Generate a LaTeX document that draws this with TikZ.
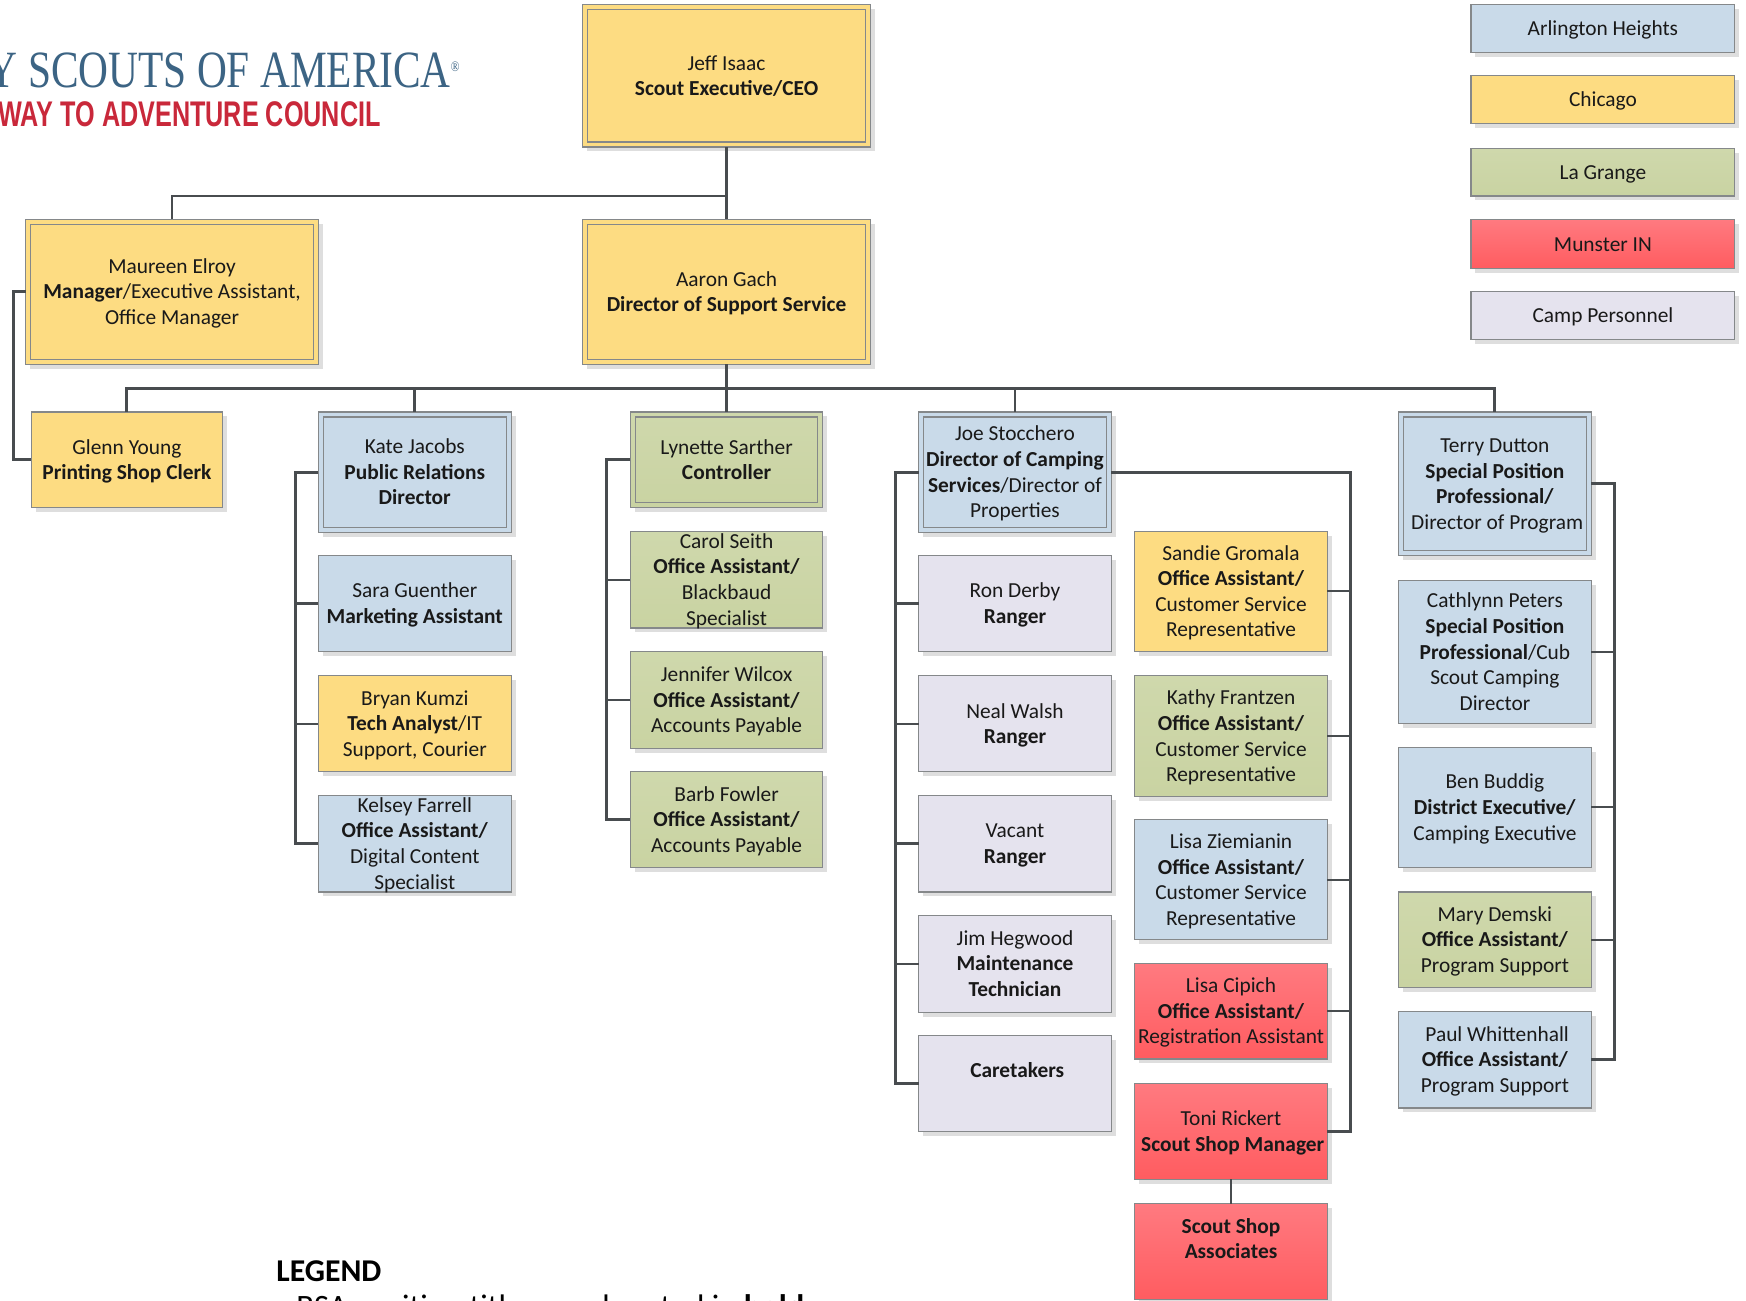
\documentclass[tikz,border=0pt]{standalone}
\usepackage{fontspec}
\setmainfont{Carlito}
\newfontfamily\logoserif[FakeStretch=0.79]{Liberation Serif}
\newfontfamily\logosans[FakeStretch=0.707]{Liberation Sans}
\usetikzlibrary{shadows,calc}
\definecolor{cblue}{HTML}{C9DAE9}
\definecolor{cyellow}{HTML}{FDDC82}
\definecolor{cgreen}{HTML}{CFD8AC}
\definecolor{cgreenb}{HTML}{C9D3A2}
\definecolor{credt}{HTML}{FF7A80}
\definecolor{credb}{HTML}{FF5C60}
\definecolor{cpurple}{HTML}{E5E3EE}
\definecolor{cedge}{HTML}{85888A}
\definecolor{cline}{HTML}{484C4F}
\definecolor{clogoblue}{HTML}{3C6484}
\definecolor{clogored}{HTML}{C9283A}
\tikzset{
  boxbase/.style={draw=cedge,line width=1pt,rectangle,inner sep=0pt,outer sep=0pt,
    font=\fontsize{19.2}{23}\selectfont,text=black!90,
    general shadow={fill=black!13,shadow xshift=4pt,shadow yshift=-4pt}},
  blue/.style={boxbase,fill=cblue},
  yellow/.style={boxbase,fill=cyellow},
  green/.style={boxbase,top color=cgreen,bottom color=cgreenb},
  red/.style={boxbase,top color=credt,bottom color=credb},
  purple/.style={boxbase,fill=cpurple},
  innerline/.style={draw=cedge,line width=1pt},
  trunk/.style={draw=cline,line width=2.6pt,line join=miter},
  stub/.style={draw=cline,line width=1.9pt},
}
% name, style, x1, y1, x2, y2, text
\newcommand{\orgbox}[7]{%
  \pgfmathsetmacro{\bw}{#5-#3}\pgfmathsetmacro{\bh}{#6-#4}%
  \pgfmathsetmacro{\cx}{(#3+#5)/2}\pgfmathsetmacro{\cy}{(#4+#6)/2}%
  \node[#2,minimum width=\bw pt,minimum height=\bh pt] (#1) at (\cx,\cy)
    {\raisebox{-7pt}[0pt][0pt]{\begin{tabular}{@{}c@{}}#7\end{tabular}}};}
\newcommand{\orgdbl}[7]{%
  \orgbox{#1}{#2}{#3}{#4}{#5}{#6}{#7}%
  \draw[innerline] ($(#1.north west)+(4.5pt,-4.5pt)$) rectangle ($(#1.south east)+(-4.5pt,4.5pt)$);}
\begin{document}
\begin{tikzpicture}[x=1pt,y=-1pt]
\useasboundingbox (0,0) rectangle (1568,1168);
\fill[white] (0,0) rectangle (1568,1168);
\begin{scope}
\clip (0,0) rectangle (1568,1168);
% logo
\node[anchor=base west,inner sep=0pt,text=clogoblue,font=\logoserif\fontsize{47}{47}\selectfont] (logoa) at (-11,79) {Y SCOUTS OF AMERICA\raisebox{15pt}{\fontsize{13}{13}\selectfont®}};
\node[anchor=base west,inner sep=0pt,text=clogored,font=\logosans\bfseries\fontsize{32}{32}\selectfont] (logob) at (-1.5,113.5) {WAY TO ADVENTURE COUNCIL};
% legend
\node[anchor=base west,inner sep=0pt,font=\bfseries\fontsize{28.5}{29}\selectfont] (legend) at (248,1151) {LEGEND};
\node[anchor=base west,inner sep=0pt,font=\fontsize{29.3}{29}\selectfont] (legendb) at (266,1183.5) {BSA position titles are denoted in \textbf{bold}};
\end{scope}
% top
\orgdbl{jeff}{yellow}{523}{4}{782}{132}{Jeff Isaac\\\textbf{Scout Executive/CEO}}
\orgdbl{maureen}{yellow}{23}{197}{286}{327}{Maureen Elroy\\\textbf{Manager}/Executive Assistant,\\Office Manager}
\orgdbl{aaron}{yellow}{523}{197}{782}{327}{Aaron Gach\\\textbf{Director of Support Service}}
\orgbox{glenn}{yellow}{28}{370}{200}{456}{Glenn Young\\\textbf{Printing Shop Clerk}}
% column 2
\orgdbl{kate}{blue}{286}{370}{459}{478}{Kate Jacobs\\\textbf{Public Relations}\\\textbf{Director}}
\orgbox{sara}{blue}{286}{499}{459}{585}{Sara Guenther\\\textbf{Marketing Assistant}}
\orgbox{bryan}{yellow}{286}{607}{459}{693}{Bryan Kumzi\\\textbf{Tech Analyst}/IT\\Support, Courier}
\orgbox{kelsey}{blue}{286}{714}{459}{801}{Kelsey Farrell\\\textbf{Office Assistant/}\\Digital Content\\Specialist}
% column 3
\orgdbl{lynette}{green}{566}{370}{739}{456}{Lynette Sarther\\\textbf{Controller}}
\orgbox{carol}{green}{566}{477}{739}{564}{Carol Seith\\\textbf{Office Assistant/}\\Blackbaud\\Specialist}
\orgbox{jennifer}{green}{566}{585}{739}{672}{Jennifer Wilcox\\\textbf{Office Assistant/}\\Accounts Payable}
\orgbox{barb}{green}{566}{693}{739}{779}{Barb Fowler\\\textbf{Office Assistant/}\\Accounts Payable}
% column 4
\orgdbl{joe}{blue}{825}{370}{998}{478}{Joe Stocchero\\\textbf{Director of Camping}\\\textbf{Services}/Director of\\Properties}
\orgbox{ron}{purple}{825}{499}{998}{585}{Ron Derby\\\textbf{Ranger}}
\orgbox{neal}{purple}{825}{607}{998}{693}{Neal Walsh\\\textbf{Ranger}}
\orgbox{vacant}{purple}{825}{714}{998}{801}{Vacant\\\textbf{Ranger}}
\orgbox{jim}{purple}{825}{822}{998}{909}{Jim Hegwood\\\textbf{Maintenance}\\\textbf{Technician}}
\orgbox{care}{purple}{825}{930}{998}{1016}{\hspace*{4pt}\textbf{Caretakers}\\~}
% column 5
\orgbox{sandie}{yellow}{1019}{477}{1192}{585}{Sandie Gromala\\\textbf{Office Assistant/}\\Customer Service\\Representative}
\orgbox{kathy}{green}{1019}{607}{1192}{715}{Kathy Frantzen\\\textbf{Office Assistant/}\\Customer Service\\Representative}
\orgbox{lisaz}{blue}{1019}{736}{1192}{844}{Lisa Ziemianin\\\textbf{Office Assistant/}\\Customer Service\\Representative}
\orgbox{lisac}{red}{1019}{865}{1192}{951}{Lisa Cipich\\\textbf{Office Assistant/}\\Registration Assistant}
\orgbox{toni}{red}{1019}{973}{1192}{1059}{Toni Rickert\\\hspace*{3pt}\textbf{Scout Shop Manager}}
\orgbox{shop}{red}{1019}{1081}{1192}{1167}{\textbf{Scout Shop}\\\textbf{Associates}\\~}
% column 6
\orgdbl{terry}{blue}{1256}{370}{1429}{499}{Terry Dutton\\\textbf{Special Position}\\\textbf{Professional/}\\\hspace*{4pt}Director of Program}
\orgbox{cathlynn}{blue}{1256}{521}{1429}{650}{Cathlynn Peters\\\textbf{Special Position}\\\textbf{Professional}/Cub\\Scout Camping\\Director}
\orgbox{ben}{blue}{1256}{671}{1429}{779}{Ben Buddig\\\textbf{District Executive/}\\Camping Executive}
\orgbox{mary}{green}{1256}{801}{1429}{887}{Mary Demski\\\textbf{Office Assistant/}\\Program Support}
\orgbox{paul}{blue}{1256}{908}{1429}{995}{\hspace*{4pt}Paul Whittenhall\\\textbf{Office Assistant/}\\Program Support}
% key
\orgbox{keya}{blue}{1321}{4}{1558}{47}{Arlington Heights}
\orgbox{keyb}{yellow}{1321}{68}{1558}{111}{Chicago}
\orgbox{keyc}{green}{1321}{133}{1558}{176}{La Grange}
\orgbox{keyd}{red}{1321}{197}{1558}{241}{Munster IN}
\orgbox{keye}{purple}{1321}{262}{1558}{305}{Camp Personnel}
% connector levels
\coordinate (bustop) at (0,176);
\coordinate (busmid) at (0,349);
\coordinate (tmau) at (12,0);
\coordinate (tkate) at (265,0);
\coordinate (tlyn) at (545,0);
\coordinate (tjoe) at (804,0);
\coordinate (tjoer) at (1213,0);
\coordinate (tterry) at (1450,0);
% top buses
\draw[trunk] (jeff.south) -- (aaron.north);
\draw[trunk] (jeff.south |- bustop) -| (maureen.north);
\draw[trunk] (aaron.south) -- (aaron.south |- busmid);
\draw[trunk] (glenn.north) |- (terry.north |- busmid) -- (terry.north);
\draw[trunk] (kate.north) -- (kate.north |- busmid);
\draw[trunk] (lynette.north) -- (lynette.north |- busmid);
\draw[trunk] (joe.north) -- (joe.north |- busmid);
% maureen
\draw[trunk] (maureen.west) -- (maureen.west -| tmau) |- (glenn.west);
% kate
\draw[trunk] (kate.west) -- (kate.west -| tkate) |- (kelsey.west);
\draw[stub] (sara.west) -- (sara.west -| tkate);
\draw[stub] (bryan.west) -- (bryan.west -| tkate);
% lynette
\draw[trunk] (lynette.west) -- (lynette.west -| tlyn) |- (barb.west);
\draw[stub] (carol.west) -- (carol.west -| tlyn);
\draw[stub] (jennifer.west) -- (jennifer.west -| tlyn);
% joe left
\draw[trunk] (joe.west) -- (joe.west -| tjoe) |- (care.west);
\draw[stub] (ron.west) -- (ron.west -| tjoe);
\draw[stub] (neal.west) -- (neal.west -| tjoe);
\draw[stub] (vacant.west) -- (vacant.west -| tjoe);
\draw[stub] (jim.west) -- (jim.west -| tjoe);
% joe right
\draw[trunk] (joe.east) -- (joe.east -| tjoer) |- (toni.east);
\draw[stub] (sandie.east) -- (sandie.east -| tjoer);
\draw[stub] (kathy.east) -- (kathy.east -| tjoer);
\draw[stub] (lisaz.east) -- (lisaz.east -| tjoer);
\draw[stub] (lisac.east) -- (lisac.east -| tjoer);
\draw[trunk] (toni.south) -- (shop.north);
% terry
\draw[trunk] (terry.east) -- (terry.east -| tterry) |- (paul.east);
\draw[stub] (cathlynn.east) -- (cathlynn.east -| tterry);
\draw[stub] (ben.east) -- (ben.east -| tterry);
\draw[stub] (mary.east) -- (mary.east -| tterry);
\end{tikzpicture}
\end{document}
